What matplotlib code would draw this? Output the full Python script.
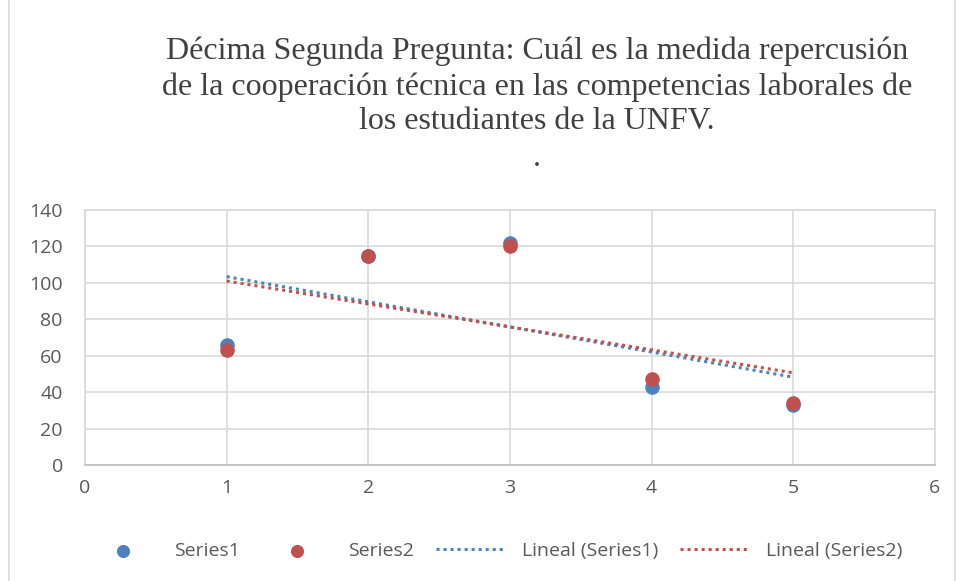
import numpy as np
import matplotlib.pyplot as plt
from matplotlib.patches import Rectangle

# Values
x_vals = [1, 2, 3, 4, 5]
series1 = [66, 115, 122, 43, 33]
series2 = [63, 115, 120, 47, 34]

title_text = ("Décima Segunda Pregunta: Cuál es la medida repercusión\n"
              "de la cooperación técnica en las competencias laborales de\n"
              "los estudiantes de la UNFV.")

blue = "#4F81BD"
red = "#C0504D"
grid_col = "#D9D9D9"
text_col = "#595959"

plt.rcParams['font.family'] = ['Open Sans', 'DejaVu Sans']

fig = plt.figure(figsize=(9.56, 5.81), dpi=100)
ax = fig.add_axes([0.0889, 0.1997, 0.8891, 0.4389])

ax.scatter(x_vals, series1, s=110, color=blue, label="Series1", zorder=3, linewidths=0)
ax.scatter(x_vals, series2, s=110, color=red, label="Series2", zorder=4, linewidths=0)

# linear trend lines fitted from the data
xs = np.array(x_vals, dtype=float)
p1 = np.polyfit(xs, series1, 1)
p2 = np.polyfit(xs, series2, 1)
ax.plot(xs, np.polyval(p1, xs), color=blue, linestyle=(0, (1, 1.3)), linewidth=2.2,
        label="Lineal (Series1)", zorder=2)
ax.plot(xs, np.polyval(p2, xs), color=red, linestyle=(0, (1, 1.3)), linewidth=2.2,
        label="Lineal (Series2)", zorder=2)

ax.set_xlim(0, 6)
ax.set_ylim(0, 140)
ax.set_xticks(range(0, 7))
ax.set_yticks(range(0, 141, 20))
ax.grid(True, color=grid_col, linewidth=1.2)
ax.set_axisbelow(True)
for s in ax.spines.values():
    s.set_color(grid_col)
    s.set_linewidth(1.2)
ax.spines['bottom'].set_color("#BFBFBF")
ax.tick_params(length=0, labelsize=14, colors=text_col)
ax.tick_params(axis='x', pad=10)
ax.tick_params(axis='y', pad=16)

fig.text(0.5617, 0.851, title_text, ha="center", va="center", fontsize=23,
         family="Liberation Serif", color="#404040", linespacing=1.26)
fig.text(0.5617, 0.728, ".", ha="center", va="center", fontsize=23,
         family="Liberation Serif", color="#404040")

fig.legend(loc="center", bbox_to_anchor=(0.518, 0.052), ncol=4, frameon=False,
           fontsize=14, labelcolor=text_col, handlelength=3.6, columnspacing=1.15,
           handletextpad=0.8, markerscale=0.9)

# chart border
fig.patches.append(Rectangle((0.009, -0.01), 0.99, 1.02, transform=fig.transFigure,
                             fill=False, edgecolor=grid_col, linewidth=1.2))

fig.savefig("out.png", dpi=100)
